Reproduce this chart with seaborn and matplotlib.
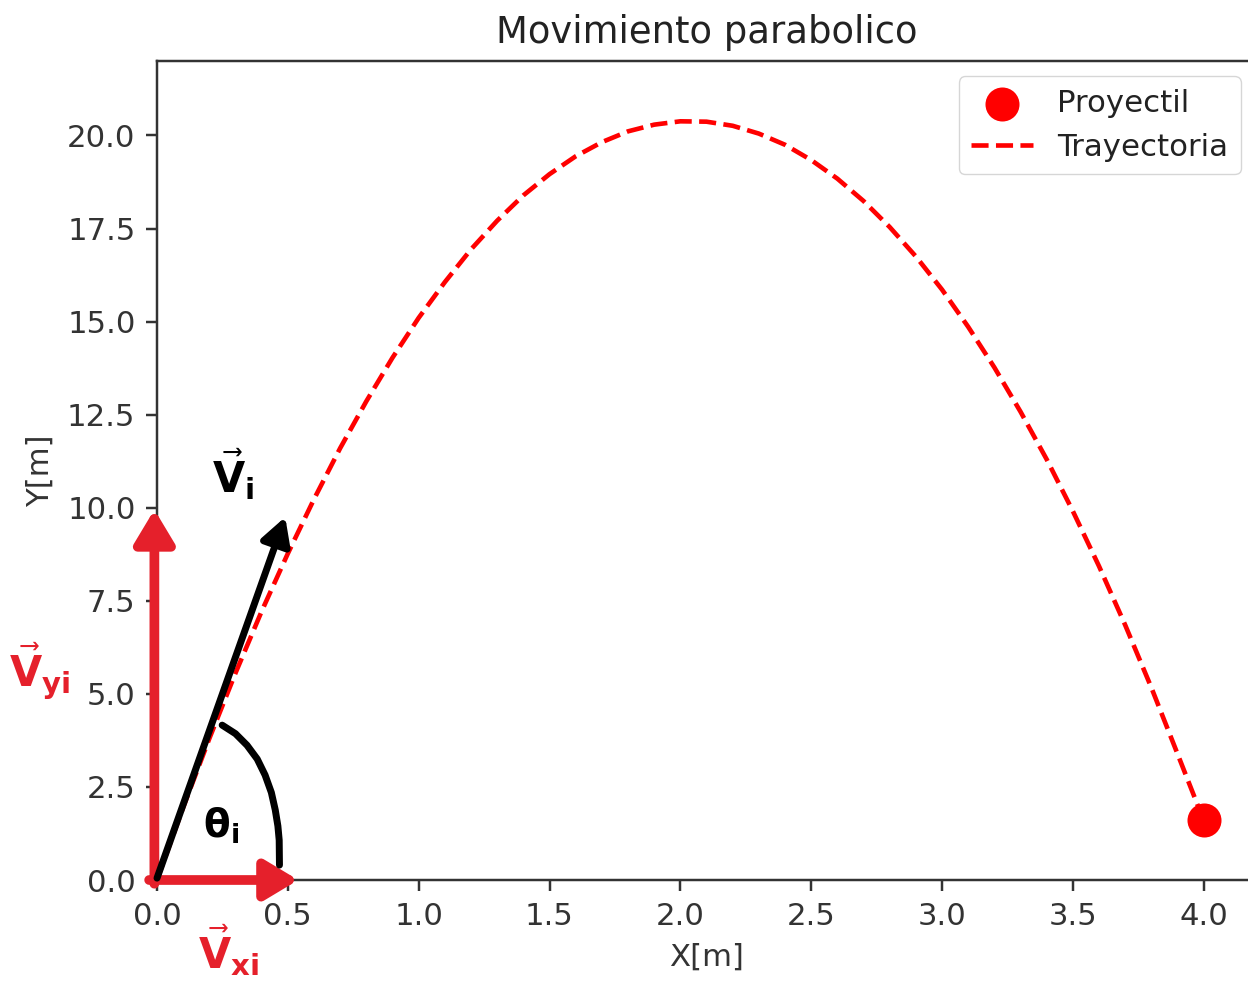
import matplotlib
matplotlib.use("Agg")
import matplotlib.pyplot as plt
import seaborn as sns
import pandas as pd

# Trajectory (x[m], y[m])
x_tray = [0.0, 0.1, 0.2, 0.3, 0.4, 0.5, 0.6, 0.7, 0.8, 0.9, 1.0,
          1.1, 1.2, 1.3, 1.4, 1.5, 1.6, 1.7, 1.8, 1.9, 2.0,
          2.1, 2.2, 2.3, 2.4, 2.5, 2.6, 2.7, 2.8, 2.9, 3.0,
          3.1, 3.2, 3.3, 3.4, 3.5, 3.6, 3.7, 3.8, 3.9, 4.0]
y_tray = [0.0, 1.95, 3.80, 5.56, 7.22, 8.77, 10.23, 11.60, 12.86, 14.03, 15.10,
          16.06, 16.94, 17.71, 18.39, 18.96, 19.44, 19.82, 20.11, 20.29, 20.38,
          20.37, 20.26, 20.05, 19.75, 19.34, 18.84, 18.24, 17.54, 16.75, 15.86,
          14.86, 13.77, 12.58, 11.30, 9.91, 8.43, 6.85, 5.17, 3.39, 1.60]
# final position of the projectile
x_proy = [4.0]
y_proy = [1.6]

df_tray = pd.DataFrame({'x': x_tray, 'y': y_tray})
df_proy = pd.DataFrame({'x': x_proy, 'y': y_proy})

S = 2.216  # screenshot is ~2.2x the default matplotlib size
plt.rcParams.update({
    'font.size': 10 * S, 'axes.titlesize': 12 * S, 'axes.labelsize': 10 * S,
    'xtick.labelsize': 10 * S, 'ytick.labelsize': 10 * S, 'legend.fontsize': 10 * S,
    'axes.linewidth': 0.8 * S,
    'xtick.major.size': 3.5 * S, 'ytick.major.size': 3.5 * S,
    'xtick.major.width': 0.8 * S, 'ytick.major.width': 0.8 * S,
    'xtick.major.pad': 3.5 * S, 'ytick.major.pad': 3.5 * S,
    'axes.titlepad': 6 * S, 'axes.labelpad': 4 * S,
    'axes.edgecolor': '#333333', 'xtick.color': '#333333', 'ytick.color': '#333333',
    'text.color': '#222222', 'axes.labelcolor': '#333333',
})

fig = plt.figure(figsize=(12.48, 9.84), dpi=100)
ax = fig.add_axes([157 / 1248, 104 / 984, 1099 / 1248, 819 / 984])

sns.scatterplot(data=df_proy, x='x', y='y', ax=ax, color='red', s=600,
                linewidth=0, label='Proyectil', zorder=3)
sns.lineplot(data=df_tray, x='x', y='y', ax=ax, color='red', linestyle='--',
             linewidth=1.5 * S, sort=False, label='Trayectoria')

ax.set_xlim(0, 4.2)
ax.set_ylim(0, 22)
ax.set_title('Movimiento parabolico')
ax.set_xlabel('X[m]')
ax.set_ylabel('Y[m]')

handles, labels = ax.get_legend_handles_labels()
order = [labels.index('Proyectil'), labels.index('Trayectoria')]
ax.legend([handles[i] for i in order], [labels[i] for i in order], loc='upper right')

# hand drawn vectors
red = '#e5202b'
ax.annotate('', xy=(-0.01, 9.95), xytext=(-0.01, -0.1),
            arrowprops=dict(arrowstyle='-|>,head_length=0.5,head_width=0.3',
                            color=red, lw=7, mutation_scale=40, shrinkA=0, shrinkB=0),
            annotation_clip=False, zorder=5)
ax.annotate('', xy=(0.54, 0.0), xytext=(-0.03, 0.0),
            arrowprops=dict(arrowstyle='-|>,head_length=0.5,head_width=0.3',
                            color=red, lw=7, mutation_scale=40, shrinkA=0, shrinkB=0),
            annotation_clip=False, zorder=5)
ax.annotate('', xy=(0.49, 9.75), xytext=(0.0, 0.05),
            arrowprops=dict(arrowstyle='-|>,head_length=0.45,head_width=0.25',
                            color='black', lw=5, mutation_scale=36, shrinkA=0, shrinkB=0),
            annotation_clip=False, zorder=6)
# angle arc
ax.plot([0.249, 0.30, 0.344, 0.383, 0.413, 0.437, 0.452, 0.462, 0.467, 0.468],
        [4.16, 3.93, 3.62, 3.25, 2.82, 2.35, 1.88, 1.45, 1.07, 0.40],
        color='black', lw=5, solid_capstyle='round', zorder=6)

ax.text(0.29, 10.9, r'$\vec{\mathbf{V}}_{\mathbf{i}}$', fontsize=30, color='black',
        ha='center', va='center')
ax.text(-0.45, 5.6, r'$\vec{\mathbf{V}}_{\mathbf{yi}}$', fontsize=30, color=red,
        ha='center', va='center', clip_on=False)
ax.text(0.275, -1.9, r'$\vec{\mathbf{V}}_{\mathbf{xi}}$', fontsize=30, color=red,
        ha='center', va='center', clip_on=False)
ax.text(0.245, 1.45, r'$\mathbf{\theta_i}$', fontsize=28, color='black',
        ha='center', va='center')

fig.savefig('out.png', dpi=100)
